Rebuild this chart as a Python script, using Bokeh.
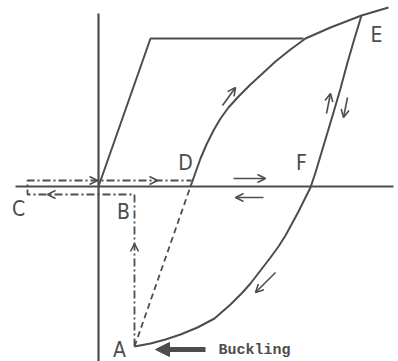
from bokeh.plotting import figure
from bokeh.models import Range1d, Arrow, OpenHead, NormalHead, ColumnDataSource
from bokeh.core.properties import value
from bokeh.embed import file_html
from bokeh.resources import INLINE

# ---- data (chart coordinates: origin at axes crossing, y up) ----
vaxis_x = [0, 0]
vaxis_y = [173, -178]
haxis_x = [-83, 295]
haxis_y = [0, 0]

envelope_x = [0, 52, 205]
envelope_y = [0, 148, 148]

upper_x = [92, 97, 102, 108, 115, 122, 130, 140, 152, 164, 177, 192, 207, 232, 263, 290]
upper_y = [0, 14, 28, 42, 56, 68, 79, 90, 102, 113, 125, 137, 148, 159, 171, 179]

lower_x = [36, 52, 67, 82, 99, 116, 132, 144, 152, 162, 172, 180, 187, 193, 200, 206, 212, 217, 223, 229, 235, 242, 249, 256, 263]
lower_y = [-160, -157, -153, -148, -141, -132, -118, -106, -97, -84, -71, -60, -49, -38, -25, -13, -1, 14, 34, 54, 74, 98, 124, 148, 171]

dashed_x = [36, 92]
dashed_y = [-160, 0]

dashdot_x = [36, 36, -71, -71, 93]
dashdot_y = [-160, -8, -8, 6, 6]

# arrows: heads only on path lines
head_x0 = [36, -12, 48, -40]
head_y0 = [-69, 6, 6, -8]
head_x1 = [36, -1, 59, -51]
head_y1 = [-57, 6, 6, -8]

# free-standing thin arrows
arr_x0 = [135, 165, 124, 228, 249, 177]
arr_y0 = [8, -11, 81, 73, 89, -86]
arr_x1 = [167, 137, 137, 232, 245, 157]
arr_y1 = [8, -11, 99, 93, 69, -106]

# buckling arrow
buck_x0 = [107]
buck_y0 = [-163]
buck_x1 = [57]
buck_y1 = [-163]

labels = ["A", "B", "C", "D", "E", "F"]
label_x = [21, 25, -80, 87, 278, 203]
label_y = [-163, -25, -22, 24, 152, 24]

note_text = ["Buckling"]
note_x = [120]
note_y = [-164]

# ---- figure ----
col = "#4d4d4d"
p = figure(width=398, height=361, output_backend="svg", toolbar_location=None,
           x_range=Range1d(-98, 300), y_range=Range1d(-175, 186),
           x_axis_type=None, y_axis_type=None, min_border=0)
p.grid.visible = False
p.outline_line_color = None
p.background_fill_color = "white"

p.line(vaxis_x, vaxis_y, line_color=col, line_width=2.2)
p.line(haxis_x, haxis_y, line_color=col, line_width=2.2)
p.line(envelope_x, envelope_y, line_color=col, line_width=2)
p.line(upper_x, upper_y, line_color=col, line_width=2)
p.line(lower_x, lower_y, line_color=col, line_width=2)
p.line(dashed_x, dashed_y, line_color=col, line_width=1.8, line_dash="6 4")
p.line(dashdot_x, dashdot_y, line_color=col, line_width=1.8, line_dash="8 3 2 3")

hs = ColumnDataSource(dict(x0=head_x0, y0=head_y0, x1=head_x1, y1=head_y1))
p.add_layout(Arrow(end=OpenHead(size=8, line_color=col, line_width=1.6),
                   x_start="x0", y_start="y0", x_end="x1", y_end="y1",
                   line_alpha=0, source=hs))

asrc = ColumnDataSource(dict(x0=arr_x0, y0=arr_y0, x1=arr_x1, y1=arr_y1))
p.add_layout(Arrow(end=OpenHead(size=8, line_color=col, line_width=1.6),
                   x_start="x0", y_start="y0", x_end="x1", y_end="y1",
                   line_color=col, line_width=1.6, source=asrc))

bsrc = ColumnDataSource(dict(x0=buck_x0, y0=buck_y0, x1=buck_x1, y1=buck_y1))
p.add_layout(Arrow(end=NormalHead(size=14, fill_color=col, line_color=col),
                   x_start="x0", y_start="y0", x_end="x1", y_end="y1",
                   line_color=col, line_width=5, source=bsrc))

p.text(label_x, label_y, text=labels, text_font=value("DejaVu Sans Condensed"),
       text_font_size="21px", text_color=col, text_align="center",
       text_baseline="middle")
p.text(note_x, note_y, text=note_text, text_font=value("Liberation Mono"),
       text_font_size="15px", text_font_style="bold", text_color=col,
       text_align="left", text_baseline="middle")

open("out.html", "w").write(file_html(p, INLINE))
